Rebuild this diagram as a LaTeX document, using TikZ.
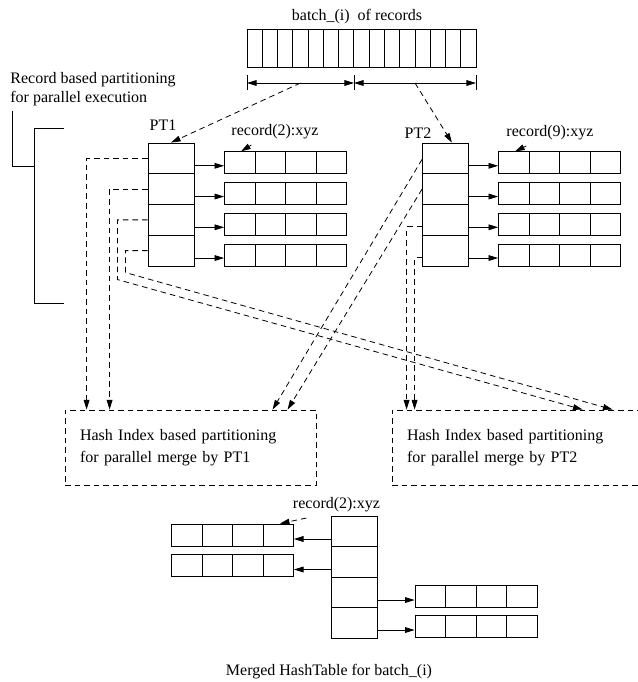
\documentclass[tikz,border=0pt]{standalone}
\usepackage{fontspec}
\setmainfont{Liberation Serif}
\usepackage{tikz}
\usetikzlibrary{arrows.meta, calc, positioning}

\tikzset{
  >={Triangle[length=6pt,width=3.6pt]},
  every node/.style={font=\fontsize{10}{12}\selectfont},
  dashline/.style={dash pattern=on 3.5pt off 2.5pt},
  cells/.style={path picture={
      \pgfmathtruncatemacro\lastk{#1-1}
      \foreach \k in {1,...,\lastk}
        \draw ($(path picture bounding box.south west)!\k/#1!(path picture bounding box.south east)$)
           -- ($(path picture bounding box.north west)!\k/#1!(path picture bounding box.north east)$);}},
  slot/.style={draw, inner sep=0pt, minimum width=28.75pt, minimum height=19.22pt},
  recrow/.style={draw, inner sep=0pt, minimum width=76.25pt, minimum height=13.75pt, cells=4},
  hashbox/.style={draw, dashline, text width=138.1pt, inner xsep=9.4pt, inner ysep=0pt,
      minimum height=46.9pt, align=left, font=\fontsize{10}{13.5}\selectfont}
}

\begin{document}
\begin{tikzpicture}[x=0.625pt, y=-0.625pt, line width=0.5pt]
\useasboundingbox (0,0) rectangle (637,682);

% batch of records
\node (title) at (357,17) {batch\_(i) \ of records};
\node[draw, inner sep=0pt, minimum width=143.1pt, minimum height=23.75pt, cells=15] (batch) at (361.5,48) {};

% split of the batch into two halves
\coordinate (dl) at (247,83);
\coordinate (dm) at (354,83);
\coordinate (dr) at (476,83);
\foreach \c in {dl,dm,dr}
    \draw (\c) ++(0,-8) -- ++(0,15);
\draw[<->] (dl) -- coordinate (hl) (dm);
\draw[<->] (dm) -- coordinate (hr) (dr);

% record based partitioning
\node[anchor=north west, align=left, inner sep=0pt] (note) at (10,72) {Record based partitioning\\for parallel execution};
\coordinate (brk) at (34,166);
\draw ([xshift=1.25pt,yshift=-3pt]note.south west) |- (brk);
\draw (64,128) -- (34,128) -- (34,303) -- (64,303);

% PT1 and PT2 tables
\node (pt1) at (163,125) {PT1};
\node (pt2) at (418,133) {PT2};
\foreach \i in {1,...,4} {
    \node[slot] (pta\i) at (171,{127.6+30.75*\i}) {};
    \node[recrow] (rowa\i) at (285.5,{132+30.75*\i}) {};
    \draw[->] ([yshift=-1.9pt]pta\i.east |- rowa\i.west) -- ([yshift=-1.9pt]rowa\i.west);
    \node[slot] (ptb\i) at (445.5,{127.6+30.75*\i}) {};
    \node[recrow] (rowb\i) at (559.5,{132+30.75*\i}) {};
    \draw[->] ([yshift=-1.9pt]ptb\i.east |- rowb\i.west) -- ([yshift=-1.9pt]rowb\i.west);
}
\draw[dashline,->] (hl) -- (pta1.north);
\draw[dashline,->] (hr) -- ([xshift=4pt]ptb1.north);

\node (rec2) at (275,132) {record(2):xyz};
\draw[dashline,->] ([xshift=16pt]rec2.south west) -- ([xshift=10.6pt]rowa1.north west);
\node (rec9) at (550,133) {record(9):xyz};
\draw[dashline,->] ([xshift=16pt]rec9.south west) -- ([xshift=10.6pt]rowb1.north west);

% hash index partitions
\node[hashbox] (hash1) at (190.5,447.5) {Hash Index based partitioning\\for parallel merge by PT1};
\node[hashbox] (hash2) at (517.5,447.5) {Hash Index based partitioning\\for parallel merge by PT2};

\draw[dashline,->] (pta1.west) -| ($(hash1.north west)+(22,0)$);
\draw[dashline,->] (pta2.west) -| ($(hash1.north west)+(45,0)$);
\draw[dashline,->] (pta3.west) -| ($(hash1.north west)+(53,-130)$) -- ($(hash2.north west)+(191,0)$);
\draw[dashline,->] (pta4.west) -| ($(hash1.north west)+(61,-137)$) -- ($(hash2.north west)+(221,0)$);
\draw[dashline,->] ([yshift=-0.6pt]ptb1.west) -- ($(hash1.north west)+(208,0)$);
\draw[dashline,->] (ptb2.west) -- ($(hash1.north west)+(223,0)$);
\draw[dashline,->] ([yshift=-4.4pt]ptb3.west) -| ($(hash2.north west)+(15,0)$);
\draw[dashline,->] ([yshift=-4.4pt]ptb4.west) -| ($(hash2.north west)+(23,0)$);

% merged hash table
\foreach \i in {1,...,4}
    \node[slot, minimum height=19.06pt] (mc\i) at (354,{500.75+30.5*\i}) {};
\node[recrow] (rowm1) at (232.5,535) {};
\node[recrow] (rowm2) at (232.5,565.5) {};
\node[recrow] (rowm3) at (476,596.5) {};
\node[recrow] (rowm4) at (476,626.5) {};
\draw[->] ([yshift=-2.5pt]mc1.west |- rowm1.east) -- ([yshift=-2.5pt]rowm1.east);
\draw[->] ([yshift=-2.5pt]mc2.west |- rowm2.east) -- ([yshift=-2.5pt]rowm2.east);
\draw[->] ([yshift=-2.2pt]mc3.east |- rowm3.west) -- ([yshift=-2.2pt]rowm3.west);
\draw[->] ([yshift=-2.2pt]mc4.east |- rowm4.west) -- ([yshift=-2.2pt]rowm4.west);

\node (recm) at (336.5,505) {record(2):xyz};
\draw[dashline,->] ([xshift=12pt]recm.south west) -- ([xshift=-8.75pt]rowm1.north east);

\node (merged) at (329,672) {Merged HashTable for batch\_(i)};
\end{tikzpicture}
\end{document}
